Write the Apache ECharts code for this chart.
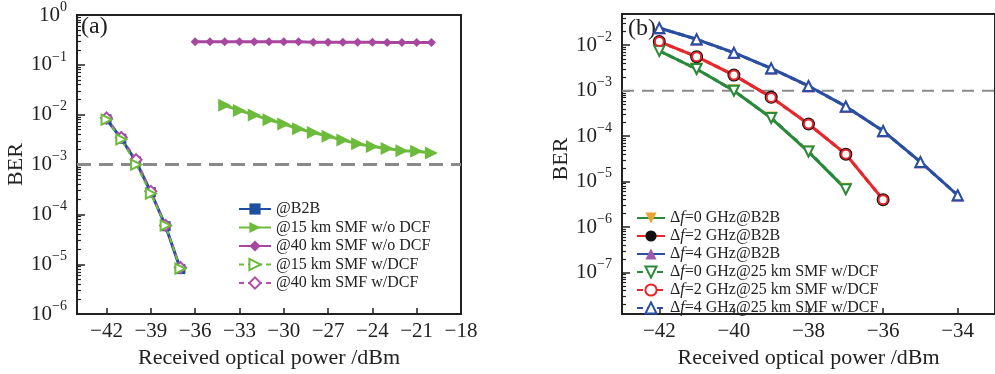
<!DOCTYPE html>
<html><head><meta charset="utf-8">
<script src="https://cdn.jsdelivr.net/npm/echarts@6/dist/echarts.min.js"></script>
<style>html,body{margin:0;padding:0;background:#fff}#c{width:995px;height:374px}</style>
</head><body><div id="c"></div>
<script>
// ---------- Panel (a) data ----------
const xA_short = [-42, -41, -40, -39, -38, -37];
const berA_b2b = [8.1e-3, 3.3e-3, 1.15e-3, 2.8e-4, 5.8e-5, 8.0e-6];
const berA_15dcf = [8.0e-3, 3.2e-3, 1.0e-3, 2.6e-4, 6.0e-5, 8.2e-6];
const berA_40dcf = [8.6e-3, 3.5e-3, 1.25e-3, 2.9e-4, 6.0e-5, 8.6e-6];
const xA_15 = [-34, -33, -32, -31, -30, -29, -28, -27, -26, -25, -24, -23, -22, -21, -20];
const berA_15 = [1.54e-2, 1.21e-2, 9.9e-3, 7.9e-3, 6.5e-3, 5.2e-3, 4.4e-3, 3.7e-3, 3.1e-3, 2.6e-3, 2.3e-3, 2.1e-3, 1.9e-3, 1.85e-3, 1.7e-3];
const xA_40 = [-36, -35, -34, -33, -32, -31, -30, -29, -28, -27, -26, -25, -24, -23, -22, -21, -20];
const berA_40 = [0.29, 0.29, 0.29, 0.29, 0.29, 0.29, 0.29, 0.29, 0.285, 0.285, 0.285, 0.285, 0.285, 0.28, 0.28, 0.28, 0.28];
const xTicksA = [-42, -39, -36, -33, -30, -27, -24, -21, -18];
const namesA = ['@B2B', '@15 km SMF w/o DCF', '@40 km SMF w/o DCF', '@15 km SMF w/DCF', '@40 km SMF w/DCF'];

// ---------- Panel (b) data ----------
const xB0 = [-42, -41, -40, -39, -38, -37];
const xB2 = [-42, -41, -40, -39, -38, -37, -36];
const xB4 = [-42, -41, -40, -39, -38, -37, -36, -35, -34];
const berB0_b2b = [7.5e-3, 3.0e-3, 1.0e-3, 2.5e-4, 4.5e-5, 6.8e-6];
const berB2_b2b = [1.2e-2, 5.6e-3, 2.2e-3, 7.2e-4, 1.85e-4, 4.0e-5, 4.0e-6];
const berB4_b2b = [2.4e-2, 1.35e-2, 6.9e-3, 3.1e-3, 1.27e-3, 4.5e-4, 1.3e-4, 2.7e-5, 5.0e-6];
const berB0_dcf = [7.5e-3, 3.0e-3, 1.0e-3, 2.5e-4, 4.6e-5, 6.8e-6];
const berB2_dcf = [1.2e-2, 5.6e-3, 2.2e-3, 7.1e-4, 1.85e-4, 4.0e-5, 4.0e-6];
const berB4_dcf = [2.4e-2, 1.35e-2, 6.8e-3, 3.1e-3, 1.27e-3, 4.5e-4, 1.3e-4, 2.7e-5, 5.0e-6];
const xTicksB = [-42, -40, -38, -36, -34];
const namesB = ['Δf=0 GHz@B2B', 'Δf=2 GHz@B2B', 'Δf=4 GHz@B2B',
  'Δf=0 GHz@25 km SMF w/DCF', 'Δf=2 GHz@25 km SMF w/DCF', 'Δf=4 GHz@25 km SMF w/DCF'];

const threshold = 1e-3;
const xRangeA = [-44, -18];
const xRangeB = [-43, -33];

// ---------- helpers ----------
const FONT = 'Liberation Serif';
const AX = '#222';
const pairs = (xs, ys) => xs.map((x, i) => [x, ys[i]]);
const minus = v => (v < 0 ? '\u2212' + (-v) : '' + v);
function minorLog(lo, hi) {
  const out = [];
  for (let n = Math.floor(lo); n <= Math.ceil(hi); n++) {
    for (let k = 2; k <= 9; k++) {
      const v = n + Math.log10(k);
      if (v > lo && v < hi) out.push(v);
    }
  }
  return out;
}
const logLabel = {
  fontFamily: FONT, color: AX, margin: 10,
  formatter: v => { const e = Math.round(Math.log10(v)); return '{a|10}{b|' + minus(e) + '}'; },
  rich: {
    a: { fontFamily: FONT, fontSize: 21, color: AX, lineHeight: 30, verticalAlign: 'middle' },
    b: { fontFamily: FONT, fontSize: 14, color: AX, lineHeight: 14, verticalAlign: 'top' }
  }
};
const xLabel = { fontFamily: FONT, fontSize: 21, color: AX, margin: 7, formatter: v => minus(v) };
const nameStyle = { fontFamily: FONT, fontSize: 22, color: AX };

const bLo = -7.916, bHi = -1.313;

function minorAxis(grid, lo, hi) {
  return { type: 'value', gridIndex: grid, min: lo, max: hi, position: 'left', offset: 0,
    axisLine: { show: false, onZero: false }, splitLine: { show: false },
    axisLabel: { show: true, customValues: minorLog(lo, hi), formatter: () => '' },
    axisTick: { show: true, inside: true, length: 4, customValues: minorLog(lo, hi), lineStyle: { color: AX, width: 1.2 } } };
}
function thresholdSeries(xAxisIndex, yAxisIndex, range, width, dash) {
  return { name: 'threshold', type: 'line', xAxisIndex, yAxisIndex, z: 1,
    data: [[range[0], threshold], [range[1], threshold]], symbol: 'none', silent: true,
    lineStyle: { color: '#8a8a8a', width, type: dash } };
}

const option = {
  animation: false,
  backgroundColor: '#fff',
  grid: [
    { left: 77, top: 14, width: 384, height: 309, show: true, borderColor: AX, borderWidth: 2 },
    { left: 622, top: 14, width: 382, height: 308, show: true, borderColor: AX, borderWidth: 2 }
  ],
  xAxis: [
    { type: 'value', gridIndex: 0, min: xRangeA[0], max: xRangeA[1],
      axisLine: { onZero: false, lineStyle: { color: AX, width: 2 } },
      axisTick: { inside: true, length: 6, customValues: xTicksA, lineStyle: { color: AX, width: 1.5 } },
      axisLabel: Object.assign({ customValues: xTicksA }, xLabel),
      splitLine: { show: false },
      name: 'Received optical power /dBm', nameLocation: 'middle', nameGap: 26, nameTextStyle: nameStyle },
    { type: 'value', gridIndex: 1, min: xRangeB[0], max: xRangeB[1],
      axisLine: { onZero: false, lineStyle: { color: AX, width: 2 } },
      axisTick: { inside: true, length: 6, customValues: xTicksB, lineStyle: { color: AX, width: 1.5 } },
      axisLabel: Object.assign({ customValues: xTicksB }, xLabel),
      splitLine: { show: false },
      name: 'Received optical power /dBm', nameLocation: 'middle', nameGap: 26, nameTextStyle: nameStyle }
  ],
  yAxis: [
    { type: 'log', gridIndex: 0, min: 1e-6, max: 1, logBase: 10, position: 'left',
      axisLine: { show: true, onZero: false, lineStyle: { color: AX, width: 2 } },
      axisTick: { inside: true, length: 8, lineStyle: { color: AX, width: 1.5 } },
      axisLabel: logLabel, splitLine: { show: false },
      name: 'BER', nameLocation: 'middle', nameGap: 48, nameTextStyle: nameStyle },
    minorAxis(0, -6, 0),
    { type: 'log', gridIndex: 1, min: Math.pow(10, bLo), max: Math.pow(10, bHi), logBase: 10, position: 'left',
      axisLine: { show: true, onZero: false, lineStyle: { color: AX, width: 2 } },
      axisTick: { inside: true, length: 8, lineStyle: { color: AX, width: 1.5 } },
      axisLabel: Object.assign({ showMinLabel: false, showMaxLabel: false }, logLabel), splitLine: { show: false },
      name: 'BER', nameLocation: 'middle', nameGap: 49, nameTextStyle: Object.assign({ padding: [0, 0, 0, 10] }, nameStyle) },
    minorAxis(1, bLo, bHi)
  ],
  legend: [
    { data: namesA, orient: 'vertical', left: 233, top: 196, itemWidth: 32, itemHeight: 14, itemGap: 2.5,
      textStyle: { fontFamily: FONT, fontSize: 16, color: AX, lineHeight: 16 } },
    { data: namesB, orient: 'vertical', left: 631, top: 205, itemWidth: 28, itemHeight: 14, itemGap: 2,
      formatter: n => n.replace('Δf', 'Δ{i|f}'),
      textStyle: { fontFamily: FONT, fontSize: 16, color: AX, lineHeight: 16,
        rich: { i: { fontFamily: FONT, fontStyle: 'italic', fontSize: 16, color: AX } } } }
  ],
  graphic: [
    { type: 'text', left: 81, top: 15, style: { text: '(a)', font: '24px "Liberation Serif"', fill: AX } },
    { type: 'text', left: 628, top: 17, style: { text: '(b)', font: '24px "Liberation Serif"', fill: AX } }
  ],
  series: [
    thresholdSeries(0, 0, xRangeA, 3, [14, 8]),
    thresholdSeries(1, 2, xRangeB, 2, [12, 8]),
    // ---- panel (a)
    { name: namesA[0], type: 'line', xAxisIndex: 0, yAxisIndex: 0, data: pairs(xA_short, berA_b2b),
      symbol: 'rect', symbolSize: 10, lineStyle: { color: '#1f4fa0', width: 3 }, itemStyle: { color: '#1f4fa0' } },
    { name: namesA[1], type: 'line', xAxisIndex: 0, yAxisIndex: 0, data: pairs(xA_15, berA_15),
      symbol: 'triangle', symbolRotate: -90, symbolSize: 13, lineStyle: { color: '#6cbb3c', width: 3 }, itemStyle: { color: '#6cbb3c' } },
    { name: namesA[2], type: 'line', xAxisIndex: 0, yAxisIndex: 0, data: pairs(xA_40, berA_40),
      symbol: 'diamond', symbolSize: 9, lineStyle: { color: '#a8479f', width: 3 }, itemStyle: { color: '#a8479f' } },
    { name: namesA[4], type: 'line', xAxisIndex: 0, yAxisIndex: 0, data: pairs(xA_short, berA_40dcf),
      symbol: 'emptyDiamond', symbolSize: 11, lineStyle: { color: '#b04fa8', width: 2, type: [5, 4] }, itemStyle: { color: '#b04fa8', borderWidth: 1.5 } },
    { name: namesA[3], type: 'line', xAxisIndex: 0, yAxisIndex: 0, data: pairs(xA_short, berA_15dcf),
      symbol: 'emptyTriangle', symbolRotate: -90, symbolSize: 10, lineStyle: { color: '#6cbb3c', width: 2, type: [5, 4] }, itemStyle: { color: '#6cbb3c', borderWidth: 1.5 } },
    // ---- panel (b)
    { name: namesB[0], type: 'line', xAxisIndex: 1, yAxisIndex: 2, data: pairs(xB0, berB0_b2b),
      symbol: 'triangle', symbolRotate: 180, symbolSize: 13, lineStyle: { color: '#2a8a3c', width: 3 }, itemStyle: { color: '#e8a431' } },
    { name: namesB[1], type: 'line', xAxisIndex: 1, yAxisIndex: 2, data: pairs(xB2, berB2_b2b),
      symbol: 'circle', symbolSize: 13, lineStyle: { color: '#e8272c', width: 3 }, itemStyle: { color: '#111' } },
    { name: namesB[2], type: 'line', xAxisIndex: 1, yAxisIndex: 2, data: pairs(xB4, berB4_b2b),
      symbol: 'triangle', symbolSize: 13, lineStyle: { color: '#2a4ea2', width: 3 }, itemStyle: { color: '#a05aab' } },
    { name: namesB[3], type: 'line', xAxisIndex: 1, yAxisIndex: 2, data: pairs(xB0, berB0_dcf),
      symbol: 'emptyTriangle', symbolRotate: 180, symbolSize: 10, lineStyle: { color: '#2a8a3c', width: 3, type: [6, 4] }, itemStyle: { color: '#2a8a3c', borderWidth: 1.5 } },
    { name: namesB[4], type: 'line', xAxisIndex: 1, yAxisIndex: 2, data: pairs(xB2, berB2_dcf),
      symbol: 'emptyCircle', symbolSize: 9, lineStyle: { color: '#e8272c', width: 3, type: [6, 4] }, itemStyle: { color: '#e8272c', borderWidth: 1.5 } },
    { name: namesB[5], type: 'line', xAxisIndex: 1, yAxisIndex: 2, data: pairs(xB4, berB4_dcf),
      symbol: 'emptyTriangle', symbolSize: 10, lineStyle: { color: '#2a4ea2', width: 3, type: [6, 4] }, itemStyle: { color: '#2a4ea2', borderWidth: 1.5 } }
  ]
};
echarts.init(document.getElementById('c'), null, { renderer: 'canvas' }).setOption(option);
</script>
</body></html>
